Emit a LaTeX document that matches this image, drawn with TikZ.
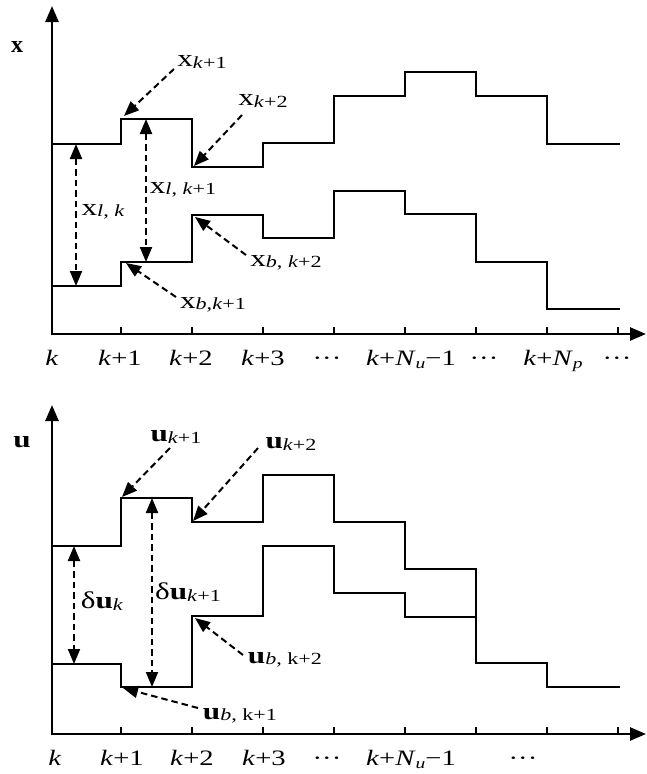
\documentclass[tikz,border=0pt]{standalone}
\usepackage{fontspec}
\setmainfont{Liberation Serif}
\usepackage{graphicx}
\usetikzlibrary{arrows.meta}
\newcommand\hs[1]{\scalebox{1.3}[1]{#1}}
\newcommand\bigf{\fontsize{24}{24}\selectfont}
\newcommand\subf{\fontsize{17}{17}\selectfont}
\newcommand\tickf{\fontsize{22}{22}\selectfont}
\newcommand\lbl[2]{\hs{{\bigf #1}\raisebox{-1.5pt}{\subf #2}}}
\newcommand\Nsub[1]{\textit{N}\raisebox{-3pt}{\fontsize{15}{15}\selectfont\textit{#1}}}
\begin{document}
\begin{tikzpicture}[x=1pt,y=-1pt,
  axis/.style={line width=2.6pt,{Triangle[length=16pt,width=13pt]}-{Triangle[length=16pt,width=13pt]}},
  stepline/.style={line width=2.3pt,line join=miter},
  tickmark/.style={line width=2pt},
  ptr/.style={line width=2pt,dash pattern=on 6.5pt off 4pt,-{Triangle[length=15pt,width=12pt]}},
  dbl/.style={line width=2pt,dash pattern=on 6.5pt off 4pt,{Triangle[length=15pt,width=12pt]}-{Triangle[length=15pt,width=12pt]}},
  lab/.style={inner sep=0pt},
  ticklab/.style={anchor=base,inner sep=0pt,font=\tickf}]
\useasboundingbox (0,0) rectangle (646,774);

% ---------- top chart ----------
\coordinate (yt1) at (52,6);
\coordinate (o1) at (52,334);
\coordinate (xt1) at (646,334);
\draw[axis] (yt1) -- (o1) -- (xt1);
\foreach \i in {1,...,8}{\draw[tickmark] (50+71*\i,334) -- (50+71*\i,327);}
\node[lab] (xlabel) at (17,47) {\bigf\textbf{x}};

\draw[stepline] (52,144) -- (121,144) -- (121,119) -- (192,119) -- (192,167) -- (263,167)
  -- (263,143) -- (334,143) -- (334,96) -- (405,96) -- (405,72) -- (476,72) -- (476,96)
  -- (547,96) -- (547,144) -- (620,144);
\draw[stepline] (52,286) -- (121,286) -- (121,262) -- (192,262) -- (192,215) -- (263,215)
  -- (263,238) -- (334,238) -- (334,191) -- (405,191) -- (405,214) -- (476,214) -- (476,262)
  -- (547,262) -- (547,309) -- (620,309);

\node[lab] (xk1) at (202,62) {\lbl{x}{\textit{k}+1}};
\coordinate (xk1s) at (174,69); \coordinate (xk1e) at (124,116);
\draw[ptr] (xk1s) -- (xk1e);
\node[lab] (xk2) at (263,101) {\lbl{x}{\textit{k}+2}};
\coordinate (xk2s) at (242,115); \coordinate (xk2e) at (194,166);
\draw[ptr] (xk2s) -- (xk2e);
\node[lab] (xlk) at (103,212) {\lbl{x}{\textit{l}, \textit{k}}};
\coordinate (xlkt) at (76,144); \coordinate (xlkb) at (76,286);
\draw[dbl] (xlkt) -- (xlkb);
\node[lab] (xlk1) at (183,190) {\lbl{x}{\textit{l}, \textit{k}+1}};
\coordinate (xlk1t) at (146,119); \coordinate (xlk1b) at (146,262);
\draw[dbl] (xlk1t) -- (xlk1b);
\node[lab] (xbk2) at (286,263) {\lbl{x}{\textit{b}, \textit{k}+2}};
\coordinate (xbk2s) at (246,255); \coordinate (xbk2e) at (195,217);
\draw[ptr] (xbk2s) -- (xbk2e);
\node[lab] (xbk1) at (213,305) {\lbl{x}{\textit{b},\textit{k}+1}};
\coordinate (xbk1s) at (176,297); \coordinate (xbk1e) at (126,263);
\draw[ptr] (xbk1s) -- (xbk1e);

\node[ticklab] (t0) at (52,365) {\hs{\textit{k}}};
\node[ticklab] (t1) at (120,365) {\hs{\textit{k}+1}};
\node[ticklab] (t2) at (191,365) {\hs{\textit{k}+2}};
\node[ticklab] (t3) at (263,365) {\hs{\textit{k}+3}};
\node[ticklab] (t4) at (327,365) {\hs{···}};
\node[ticklab] (t5) at (411,365) {\hs{\textit{k}+\Nsub{u}−1}};
\node[ticklab] (t6) at (484,365) {\hs{···}};
\node[ticklab] (t7) at (553,365) {\hs{\textit{k}+\Nsub{p}}};
\node[ticklab] (t8) at (617,365) {\hs{···}};

% ---------- bottom chart ----------
\coordinate (yt2) at (52,405);
\coordinate (o2) at (52,734);
\coordinate (xt2) at (646,734);
\draw[axis] (yt2) -- (o2) -- (xt2);
\foreach \i in {1,...,8}{\draw[tickmark] (50+71*\i,734) -- (50+71*\i,727);}
\node[lab] (ulabel) at (22,442) {\hs{\bigf\textbf{u}}};

\draw[stepline] (52,546) -- (121,546) -- (121,498) -- (192,498) -- (192,522) -- (263,522)
  -- (263,475) -- (334,475) -- (334,522) -- (405,522) -- (405,569) -- (476,569) -- (476,663)
  -- (547,663) -- (547,687) -- (620,687);
\draw[stepline] (52,664) -- (121,664) -- (121,687) -- (192,687) -- (192,616) -- (263,616)
  -- (263,546) -- (334,546) -- (334,593) -- (405,593) -- (405,617) -- (476,617) -- (476,663);

\node[lab] (uk1) at (176,437) {\lbl{\textbf{u}}{\textit{k}+1}};
\coordinate (uk1s) at (170,448); \coordinate (uk1e) at (122,497);
\draw[ptr] (uk1s) -- (uk1e);
\node[lab] (uk2) at (291,444) {\lbl{\textbf{u}}{\textit{k}+2}};
\coordinate (uk2s) at (258,448); \coordinate (uk2e) at (193,521);
\draw[ptr] (uk2s) -- (uk2e);
\node[lab] (duk) at (102,601) {\lbl{δ\textbf{u}}{\textit{k}}};
\coordinate (dukt) at (74,546); \coordinate (dukb) at (74,664);
\draw[dbl] (dukt) -- (dukb);
\node[lab] (duk1) at (188,592) {\lbl{δ\textbf{u}}{\textit{k}+1}};
\coordinate (duk1t) at (152,498); \coordinate (duk1b) at (152,687);
\draw[dbl] (duk1t) -- (duk1b);
\node[lab] (ubk2) at (285,660) {\lbl{\textbf{u}}{\textit{b}, k+2}};
\coordinate (ubk2s) at (243,655); \coordinate (ubk2e) at (195,618);
\draw[ptr] (ubk2s) -- (ubk2e);
\node[lab] (ubk1) at (240,716) {\lbl{\textbf{u}}{\textit{b}, k+1}};
\coordinate (ubk1s) at (198,708); \coordinate (ubk1e) at (123,688);
\draw[ptr] (ubk1s) -- (ubk1e);

\node[ticklab] (b0) at (55,765) {\hs{\textit{k}}};
\node[ticklab] (b1) at (122,765) {\hs{\textit{k}+1}};
\node[ticklab] (b2) at (192,765) {\hs{\textit{k}+2}};
\node[ticklab] (b3) at (264,765) {\hs{\textit{k}+3}};
\node[ticklab] (b4) at (327,765) {\hs{···}};
\node[ticklab] (b5) at (411,765) {\hs{\textit{k}+\Nsub{u}−1}};
\node[ticklab] (b6) at (523,765) {\hs{···}};
\end{tikzpicture}
\end{document}
